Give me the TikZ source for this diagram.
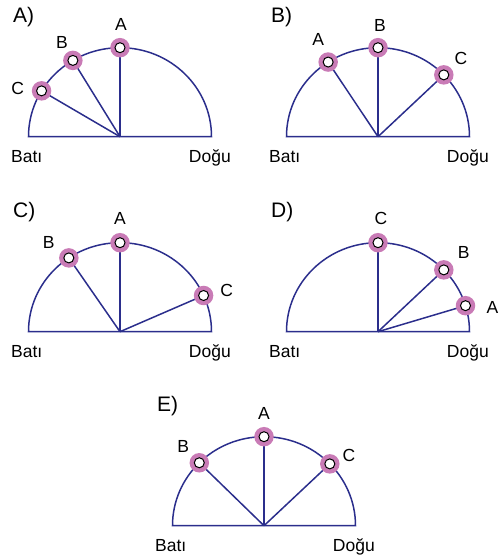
\documentclass[tikz,border=0pt]{standalone}
\usepackage{fontspec}
\setmainfont{Liberation Sans}
\usepackage{xcolor}
\usepackage{tikz}
\usetikzlibrary{calc}
\definecolor{SNavy}{HTML}{2B2E8C}
\definecolor{SPink}{HTML}{C97BB6}

\begin{document}
\begin{tikzpicture}[x=1pt, y=1pt,
  semi/.style={draw=SNavy, line width=1.5pt},
  ray/.style={draw=SNavy, line width=1.5pt},
  dot/.style={circle, inner sep=0pt, minimum size=19.5pt, fill=SPink,
              path picture={\draw[fill=white, draw=black, line width=1pt]
                (path picture bounding box.center) circle (5pt);}},
  lbl/.style={inner sep=0pt, font=\fontsize{17.5}{21}\selectfont},
  tag/.style={inner sep=0pt, anchor=base west, font=\fontsize{21}{25}\selectfont}]
\useasboundingbox (0,0) rectangle (502,555);
% half circles with horizon line
\foreach \p/\cx/\cy in {A/120/418.3, B/378/418.3, C/120/223.3,
                        D/378/223.3, E/264/29.3}{
  \coordinate (o\p) at (\cx,\cy);
  \draw[semi] ([xshift=-91.5pt]o\p) arc[start angle=180, end angle=0,
       x radius=91.5, y radius=89] -- cycle;
  \node[tag] (tag\p) at ([shift={(-107,114)}]o\p) {\p)};
  \node[lbl, anchor=base west] (west\p) at ([shift={(-109,-25.5)}]o\p) {Batı};
  \node[lbl, anchor=base east] (east\p) at ([shift={(111,-25.5)}]o\p) {Doğu};
}
% stars on the sky
\foreach \p/\m/\ang/\dx/\dy in {%
  A/A/90/1/23,   A/B/121/-11/18, A/C/149/-24/2,
  B/A/123/-10/23, B/B/90/2/22,   B/C/44/17/16,
  C/A/90/0/24,   C/B/124/-20/15, C/C/24/23/5,
  D/C/90/3/24,   D/B/44/20/17,   D/A/17/27/-2,
  E/A/90/0/23,   E/B/135/-16/16, E/C/44/19/8}{
  \coordinate (p\p\m) at ($(o\p)+(\ang:91.5pt and 89pt)$);
  \draw[ray] (o\p) -- (p\p\m);
  \node[dot] (s\p\m) at (p\p\m) {};
  \node[lbl] (l\p\m) at ([shift={(\dx,\dy)}]s\p\m.center) {\m};
}
\end{tikzpicture}
\end{document}
